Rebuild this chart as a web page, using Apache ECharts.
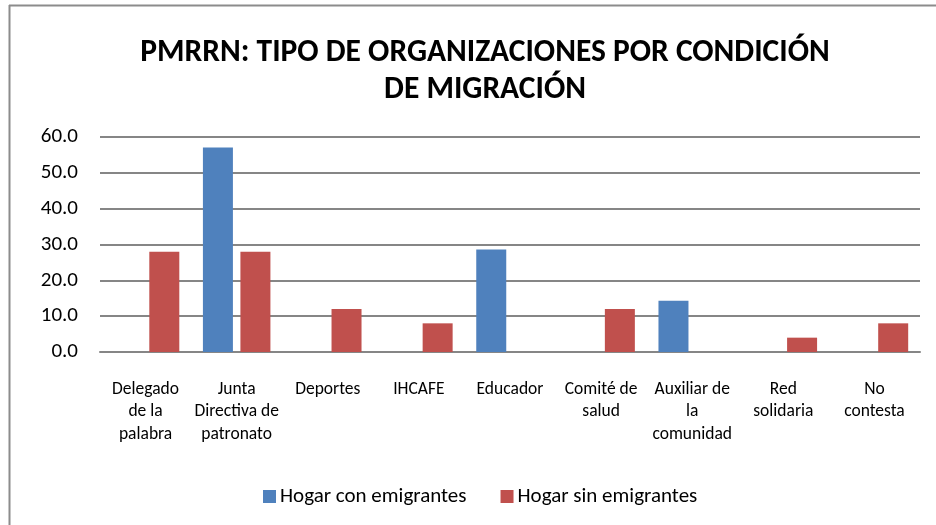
<!DOCTYPE html>
<html lang="es">
<head>
    <meta charset="UTF-8">
    <title>PMRRN</title>
    <style>
        html, body { margin: 0; padding: 0; background: #fff; }
    </style>
</head>
<body>
<div id="main" style="width:936px;height:525px"></div>
<script src="https://cdn.jsdelivr.net/npm/echarts@6/dist/echarts.min.js"></script>
<script>
    // categorias (con saltos de linea como en el original)
    var categorias = [
        'Delegado\nde la\npalabra',
        'Junta\nDirectiva de\npatronato',
        'Deportes',
        'IHCAFE',
        'Educador',
        'Comité de\nsalud',
        'Auxiliar de\nla\ncomunidad',
        'Red\nsolidaria',
        'No\ncontesta'
    ];
    var conEmigrantes = [0, 57.1, 0, 0, 28.6, 0, 14.3, 0, 0];
    var sinEmigrantes = [28, 28, 12, 8, 0, 12, 0, 4, 8];
    var nombresSeries = ['Hogar con emigrantes', 'Hogar sin emigrantes'];

    var fuente = 'Carlito, Lato, sans-serif';
    var myChart = echarts.init(document.getElementById('main'));

    myChart.setOption({
        backgroundColor: '#fff',
        animation: false,
        textStyle: { fontFamily: fuente },
        title: {
            text: 'PMRRN: TIPO DE ORGANIZACIONES POR CONDICIÓN\nDE MIGRACIÓN',
            left: 480,
            top: 30,
            textAlign: 'center',
            textStyle: {
                fontFamily: fuente,
                fontSize: 31.5,
                fontWeight: 'bold',
                color: '#000',
                lineHeight: 37
            }
        },
        // marco del grafico
        graphic: [
            { type: 'line', shape: { x1: 9, y1: 5.5, x2: 936, y2: 5.5 }, style: { stroke: '#8c8c8c', lineWidth: 2 } },
            { type: 'line', shape: { x1: 9.5, y1: 5, x2: 9.5, y2: 525 }, style: { stroke: '#8c8c8c', lineWidth: 2 } }
        ],
        legend: {
            data: nombresSeries,
            left: 258,
            top: 481,
            itemWidth: 13,
            itemHeight: 13,
            itemGap: 34,
            icon: 'rect',
            textStyle: { fontFamily: fuente, fontSize: 21, color: '#000', padding: [0, 0, 0, -1] }
        },
        grid: {
            left: 100,
            right: 16,
            top: 137,
            height: 215,
            containLabel: false
        },
        xAxis: {
            type: 'category',
            data: categorias,
            axisTick: { show: false },
            axisLine: { lineStyle: { color: '#868686', width: 2 } },
            axisLabel: {
                interval: 0,
                margin: 26,
                fontFamily: fuente,
                fontSize: 17.5,
                lineHeight: 22.5,
                color: '#000'
            }
        },
        yAxis: {
            type: 'value',
            min: 0,
            max: 60,
            interval: 10,
            axisLine: { show: false },
            axisTick: { show: false },
            axisLabel: {
                margin: 22,
                fontFamily: fuente,
                fontSize: 21,
                color: '#000',
                formatter: function (v) { return v.toFixed(1); }
            },
            splitLine: { lineStyle: { color: '#868686', width: 2 } }
        },
        series: [
            {
                name: nombresSeries[0],
                type: 'bar',
                data: conEmigrantes,
                barWidth: 30,
                barGap: '25%',
                itemStyle: { color: '#4F81BD' }
            },
            {
                name: nombresSeries[1],
                type: 'bar',
                data: sinEmigrantes,
                barWidth: 30,
                itemStyle: { color: '#C0504D' }
            }
        ]
    });
</script>
</body>
</html>
